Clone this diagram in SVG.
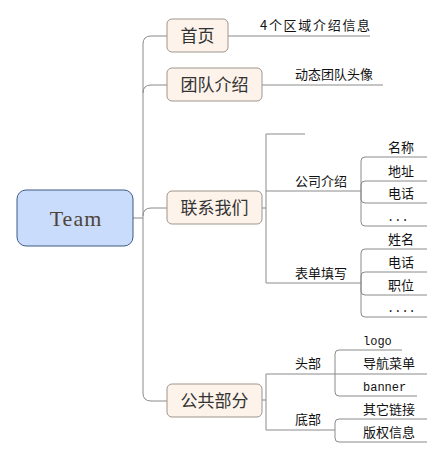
<svg xmlns="http://www.w3.org/2000/svg" width="445" height="458" viewBox="0 0 445 458">
<style>
.main rect{fill:#fdf3ea;stroke:#9e958c;stroke-width:1}
.main text{font-family:"Noto Sans CJK SC","Noto Sans",sans-serif;font-size:17px;fill:#333;text-anchor:middle}
.lbl{font-family:"Noto Sans CJK SC","Noto Sans",sans-serif;font-size:13px;fill:#111}
.mono{font-family:"Liberation Mono","DejaVu Sans Mono",monospace;font-size:12px;fill:#111}
.c path{fill:none;stroke:#8a8a8a;stroke-width:1}
</style>
<rect width="445" height="458" fill="#fff"/>
<g class="c" id="connectors">
<path d="M133,218 L143,218"/>
<path d="M167,36 L151,36 Q143,36 143,44 L143,393 Q143,401 151,401 L167,401"/>
<path d="M143,93 Q143,85 151,85 L167,85"/>
<path d="M143,216 Q143,208 151,208 L167,208"/>
<path d="M228,36 L370,36"/>
<path d="M262,85 L383,85"/>
<path d="M262,208 L266,208"/>
<path d="M305,134 L266,134 L266,283 L361,283"/>
<path d="M266,191 L361,191"/>
<path d="M361,191 L361,161 Q361,157 365,157 L427,157"/>
<path d="M361,191 L361,185 Q361,181 365,181 L427,181"/>
<path d="M361,191 L361,199 Q361,203 365,203 L427,203"/>
<path d="M361,191 L361,222 Q361,226 365,226 L427,226"/>
<path d="M361,283 L361,253 Q361,249 365,249 L427,249"/>
<path d="M361,283 L361,276 Q361,272 365,272 L427,272"/>
<path d="M361,283 L361,291 Q361,295 365,295 L427,295"/>
<path d="M361,283 L361,313 Q361,317 365,317 L427,317"/>
<path d="M262,400 L266,400"/>
<path d="M335,374 L266,374 L266,430 L335,430"/>
<path d="M335,374 L335,354 Q335,350 339,350 L402,350"/>
<path d="M335,374 L427,374"/>
<path d="M335,374 L335,392 Q335,396 339,396 L417,396"/>
<path d="M335,430 L335,423 Q335,419 339,419 L427,419"/>
<path d="M335,430 L335,438 Q335,442 339,442 L427,442"/>
</g>
<g id="team">
<rect x="17" y="190" width="116" height="56" rx="9" fill="#c9dcfc" stroke="#3f5a84" stroke-width="1"/>
<text x="76" y="226" font-family="Liberation Serif,serif" font-size="22" fill="#4f4536" letter-spacing="1" text-anchor="middle">Team</text>
</g>
<g class="main" id="n-home"><rect x="167" y="19" width="61" height="33" rx="5"/><text x="197.5" y="42">首页</text></g>
<g class="main" id="n-team-intro"><rect x="167" y="68" width="95" height="33" rx="5"/><text x="214.5" y="91">团队介绍</text></g>
<g class="main" id="n-contact"><rect x="167" y="191" width="95" height="33" rx="5"/><text x="214.5" y="214">联系我们</text></g>
<g class="main" id="n-common"><rect x="167" y="384" width="95" height="33" rx="5"/><text x="214.5" y="407">公共部分</text></g>
<g id="l-home"><text class="lbl" x="260" y="30" letter-spacing="1.7">4个区域介绍信息</text></g>
<g id="l-avatar"><text class="lbl" x="295" y="79">动态团队头像</text></g>
<g id="l-company"><text class="lbl" x="295" y="186">公司介绍</text></g>
<g id="l-form"><text class="lbl" x="295" y="278">表单填写</text></g>
<g id="l-name"><text class="lbl" x="388" y="152">名称</text></g>
<g id="l-addr"><text class="lbl" x="388" y="176">地址</text></g>
<g id="l-tel"><text class="lbl" x="388" y="198">电话</text></g>
<g id="l-dots1"><text class="mono" x="387" y="221" font-size="13">...</text></g>
<g id="l-xm"><text class="lbl" x="388" y="244">姓名</text></g>
<g id="l-tel2"><text class="lbl" x="388" y="267">电话</text></g>
<g id="l-job"><text class="lbl" x="388" y="290">职位</text></g>
<g id="l-dots2"><text class="mono" x="387" y="312" font-size="12">....</text></g>
<g id="l-head"><text class="lbl" x="295" y="368">头部</text></g>
<g id="l-foot"><text class="lbl" x="295" y="424">底部</text></g>
<g id="l-logo"><text class="mono" x="363" y="345">logo</text></g>
<g id="l-nav"><text class="lbl" x="363" y="368">导航菜单</text></g>
<g id="l-banner"><text class="mono" x="363" y="391">banner</text></g>
<g id="l-links"><text class="lbl" x="363" y="414">其它链接</text></g>
<g id="l-copy"><text class="lbl" x="363" y="437">版权信息</text></g>
</svg>
